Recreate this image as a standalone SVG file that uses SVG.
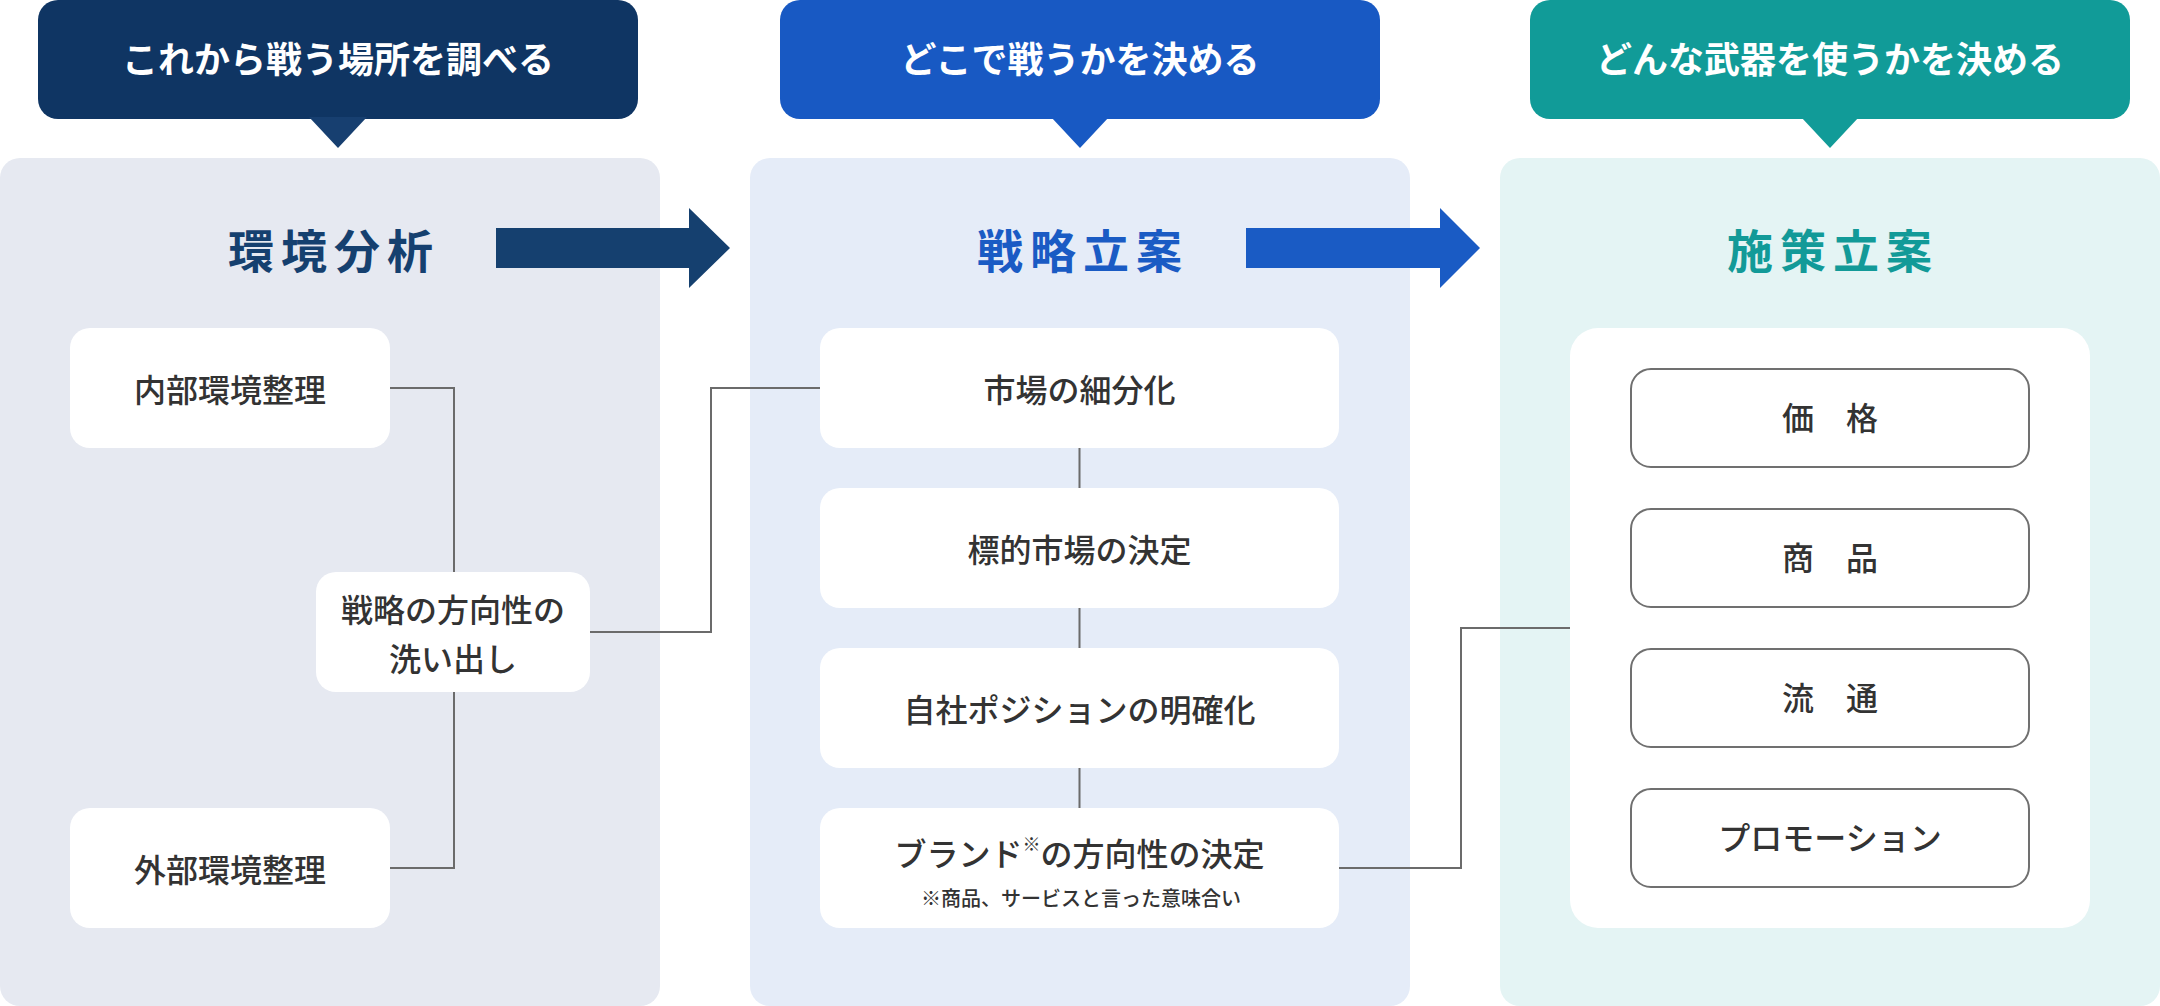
<svg xmlns="http://www.w3.org/2000/svg" width="2160" height="1006" viewBox="0 0 2160 1006">
<style>
text{font-family:"Noto Sans CJK JP","Noto Sans",sans-serif;dominant-baseline:central;text-anchor:middle}
.hd{fill:#fff;font-size:36px;font-weight:700}
.tt{font-size:46px;font-weight:700;letter-spacing:7px}
.bx{fill:#fff}
.lb{fill:#333;font-size:32px;font-weight:500}
.sm{fill:#333;font-size:20px;font-weight:500}
.ob{fill:#fff;stroke:#707070;stroke-width:2}
.cn{fill:none;stroke:#6b6b6b;stroke-width:2}
</style>
<rect width="2160" height="1006" fill="#fff"/>
<g id="panel-env">
<rect x="0" y="158" width="660" height="848" rx="20" fill="#e6e9f1"/>
<text class="tt" x="334" y="248" fill="#15406f">環境分析</text>
</g>
<g id="panel-strategy">
<rect x="750" y="158" width="660" height="848" rx="20" fill="#e5ecf8"/>
<text class="tt" x="1083" y="248" fill="#1a5bc4">戦略立案</text>
</g>
<g id="panel-measure">
<rect x="1500" y="158" width="660" height="848" rx="20" fill="#e4f4f4"/>
<text class="tt" x="1833" y="248" fill="#129a98">施策立案</text>
</g>
<g id="header-1">
<rect x="38" y="0" width="600" height="119" rx="20" fill="#0f3563"/>
<polygon points="309,117 367,117 338,148" fill="#173f70"/>
<text class="hd" x="338" y="57">これから戦う場所を調べる</text>
</g>
<g id="header-2">
<rect x="780" y="0" width="600" height="119" rx="20" fill="#1859c3"/>
<polygon points="1051,117 1109,117 1080,148" fill="#1859c3"/>
<text class="hd" x="1080" y="57">どこで戦うかを決める</text>
</g>
<g id="header-3">
<rect x="1530" y="0" width="600" height="119" rx="20" fill="#119b98"/>
<polygon points="1801,117 1859,117 1830,148" fill="#119b98"/>
<text class="hd" x="1830" y="57">どんな武器を使うかを決める</text>
</g>
<g id="arrow-1">
<polygon points="496,228 689,228 689,208 730,248 689,288 689,268 496,268" fill="#15406f"/>
</g>
<g id="arrow-2">
<polygon points="1246,228 1440,228 1440,208 1480,248 1440,288 1440,268 1246,268" fill="#1a5bc4"/>
</g>
<g id="connectors">
<path class="cn" d="M390 388H454V868H390"/>
<path class="cn" d="M590 632H711V388H820"/>
<path class="cn" d="M1079.5 448V808"/>
<path class="cn" d="M1339 868H1461V628H1570"/>
</g>
<g id="node-internal">
<rect class="bx" x="70" y="328" width="320" height="120" rx="20"/>
<text class="lb" x="230" y="388">内部環境整理</text>
</g>
<g id="node-external">
<rect class="bx" x="70" y="808" width="320" height="120" rx="20"/>
<text class="lb" x="230" y="868">外部環境整理</text>
</g>
<g id="node-direction">
<rect class="bx" x="316" y="572" width="274" height="120" rx="20"/>
<text class="lb" x="453" y="608">戦略の方向性の</text>
<text class="lb" x="453" y="657">洗い出し</text>
</g>
<g id="node-segment">
<rect class="bx" x="820" y="328" width="519" height="120" rx="20"/>
<text class="lb" x="1079.5" y="388">市場の細分化</text>
</g>
<g id="node-target">
<rect class="bx" x="820" y="488" width="519" height="120" rx="20"/>
<text class="lb" x="1079.5" y="548">標的市場の決定</text>
</g>
<g id="node-position">
<rect class="bx" x="820" y="648" width="519" height="120" rx="20"/>
<text class="lb" x="1079.5" y="708">自社ポジションの明確化</text>
</g>
<g id="node-brand">
<rect class="bx" x="820" y="808" width="519" height="120" rx="20"/>
<text class="lb" x="1079.5" y="852">ブランド<tspan font-size="18" dy="-9">※</tspan><tspan dy="9">の方向性の決定</tspan></text>
<text class="sm" x="1081" y="897">※商品、サービスと言った意味合い</text>
</g>
<g id="node-mix">
<rect class="bx" x="1570" y="328" width="520" height="600" rx="28"/>
</g>
<g id="node-price">
<rect class="ob" x="1631" y="369" width="398" height="98" rx="20"/>
<text class="lb" x="1830" y="416">価　格</text>
</g>
<g id="node-product">
<rect class="ob" x="1631" y="509" width="398" height="98" rx="20"/>
<text class="lb" x="1830" y="556">商　品</text>
</g>
<g id="node-place">
<rect class="ob" x="1631" y="649" width="398" height="98" rx="20"/>
<text class="lb" x="1830" y="696">流　通</text>
</g>
<g id="node-promotion">
<rect class="ob" x="1631" y="789" width="398" height="98" rx="20"/>
<text class="lb" x="1830" y="836">プロモーション</text>
</g>
</svg>
